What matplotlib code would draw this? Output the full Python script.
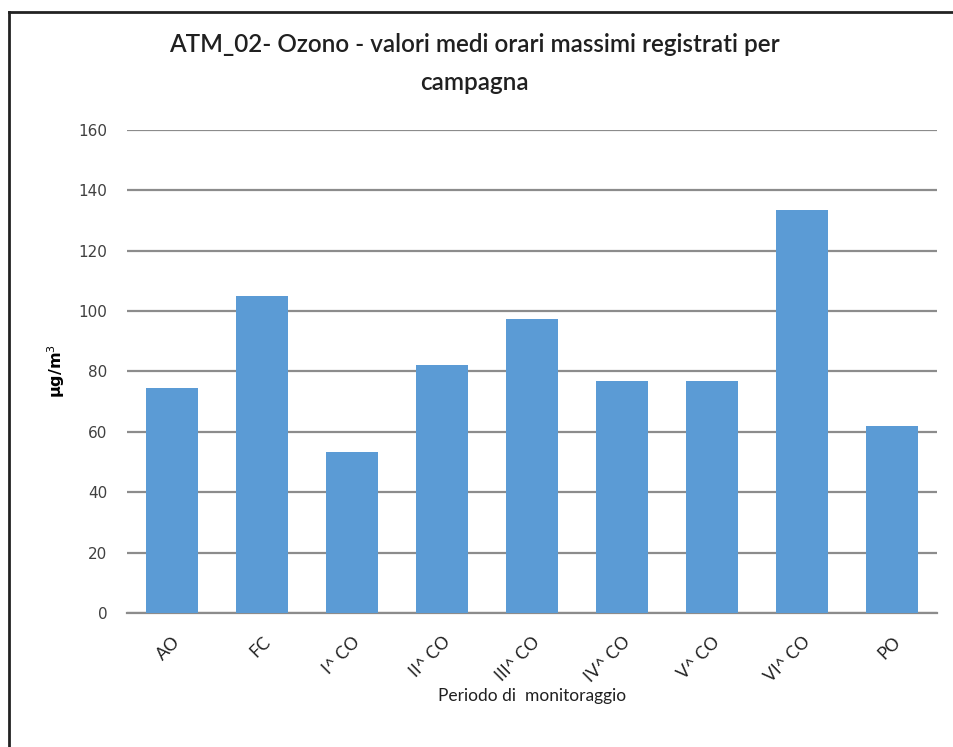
import matplotlib
matplotlib.use("Agg")
import matplotlib.pyplot as plt
from matplotlib.lines import Line2D

# Data
periodi = ['AO', 'FC', 'I^ CO', 'II^ CO', 'III^ CO', 'IV^ CO', 'V^ CO', 'VI^ CO', 'PO']
ozono_max = [74.5, 104.9, 53.4, 82.0, 97.5, 76.8, 76.8, 133.4, 61.8]
y_ticks = [0, 20, 40, 60, 80, 100, 120, 140, 160]

fig = plt.figure(figsize=(9.54, 7.47), dpi=100)
ax = fig.add_axes([0.1331, 0.1794, 0.849, 0.6466])

ax.bar(range(len(periodi)), ozono_max, width=0.57, color='#5B9BD5', zorder=3)

ax.set_xlim(-0.5, len(periodi) - 0.5)
ax.set_ylim(0, 160)
ax.set_yticks(y_ticks)
ax.set_yticklabels([str(v) for v in y_ticks], family='DejaVu Sans', fontsize=11,
                   color='#404040')
ax.yaxis.grid(True, color='#8c8c8c', linewidth=1.6, zorder=0)
ax.set_axisbelow(True)

for s in ['top', 'right', 'left']:
    ax.spines[s].set_visible(False)
ax.spines['bottom'].set_color('#8c8c8c')
ax.spines['bottom'].set_linewidth(1.6)

ax.tick_params(axis='y', length=0, pad=14)
ax.tick_params(axis='x', length=0, pad=15)

ax.set_xticks(range(len(periodi)))
ax.set_xticklabels(periodi, rotation=45, ha='right', rotation_mode='anchor',
                   fontsize=12.5, family='Lato', color='#202020')

ax.set_xlabel('Periodo di  monitoraggio', fontsize=12.5, family='Lato',
              color='#202020', labelpad=2)
ax.set_ylabel('µg/m$^3$', fontsize=11.5, family='DejaVu Sans', fontweight='bold',
              labelpad=8)

fig.text(0.497, 0.915, 'ATM_02- Ozono - valori medi orari massimi registrati per\ncampagna',
         ha='center', va='center', fontsize=17.5, family='Lato', fontweight='semibold',
         color='#202020', linespacing=1.75)

# cornice
fig.add_artist(Line2D([9 / 954, 9 / 954], [0, 1 - 12 / 747], color='#222222',
                      linewidth=2, transform=fig.transFigure))
fig.add_artist(Line2D([9 / 954, 1], [1 - 12 / 747, 1 - 12 / 747], color='#222222',
                      linewidth=2, transform=fig.transFigure))

fig.savefig('out.png', dpi=100)
